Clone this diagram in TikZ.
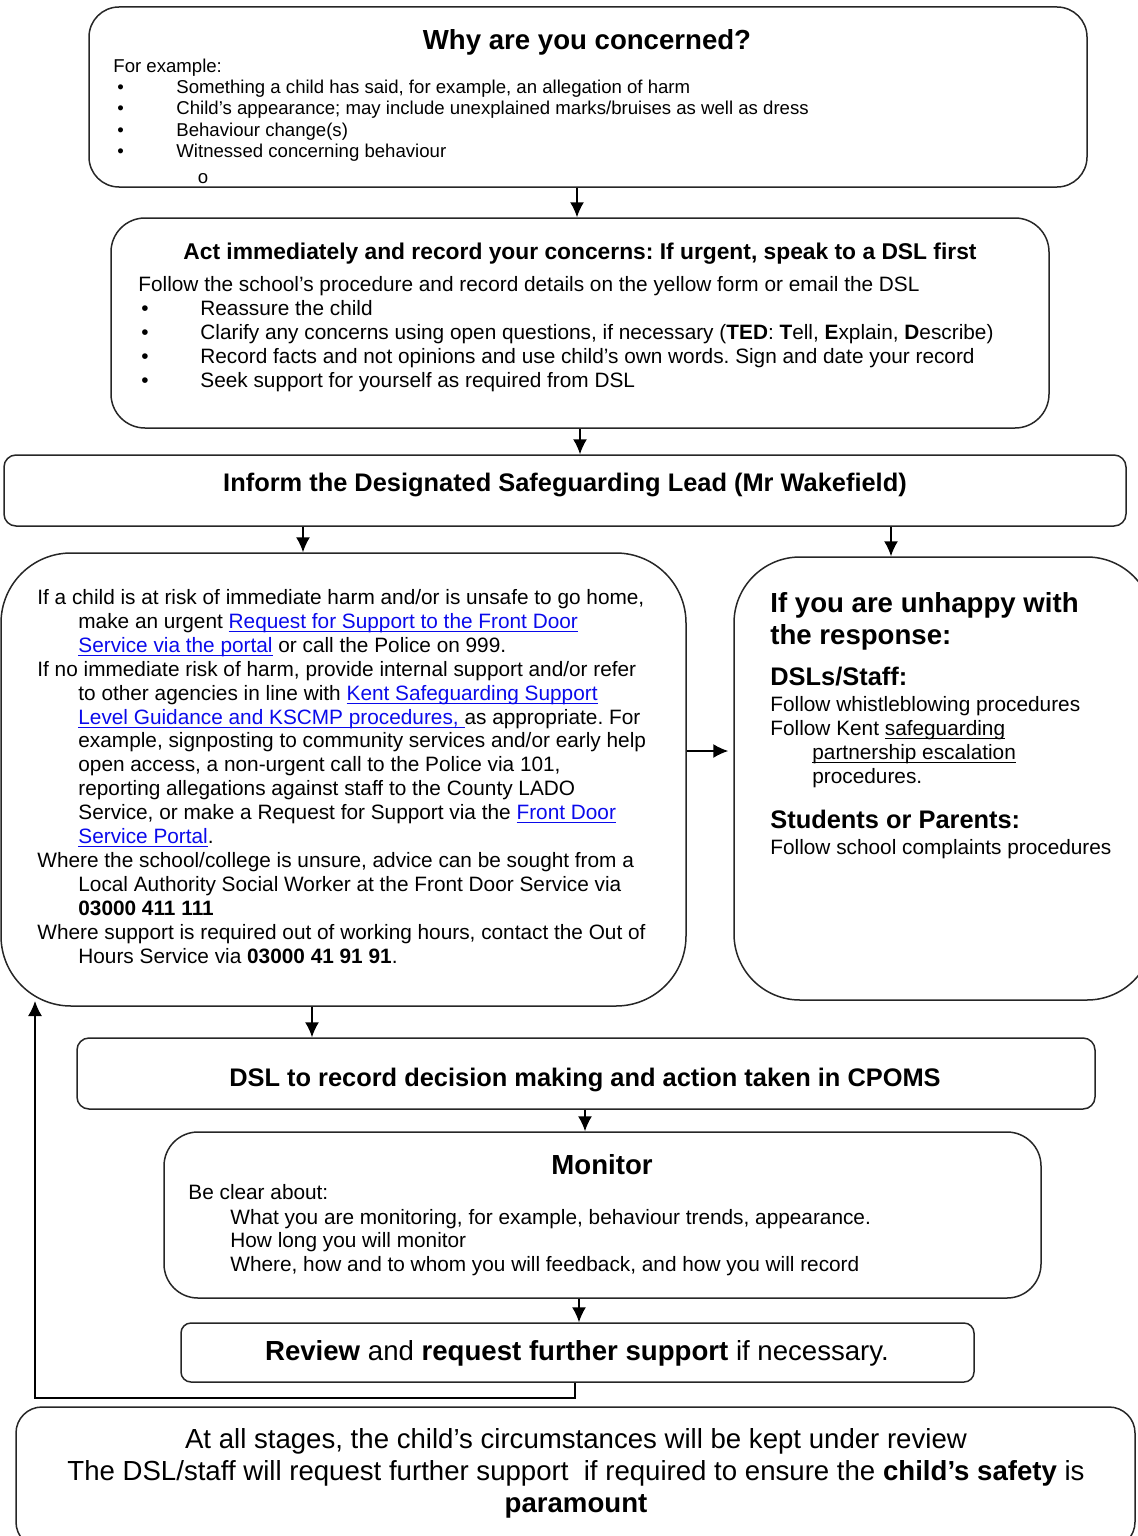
\documentclass[tikz,border=0pt]{standalone}
\usepackage{fontspec}
\setmainfont{Liberation Sans}
\usetikzlibrary{arrows.meta,fit}

\definecolor{linkblue}{RGB}{10,10,235}
\newcommand{\undl}[1]{\setbox0=\hbox{#1}\rlap{\vrule height -1.4pt depth 1.85pt width \wd0}\box0}
\newcommand{\lnk}[1]{\textcolor{linkblue}{\undl{#1}}}
\newcommand{\szbig}{\fontsize{13.8}{16}\selectfont}
\newcommand{\szmid}{\fontsize{12.7}{15}\selectfont}
\newcommand{\szact}{\fontsize{11.4}{13.5}\selectfont}
\newcommand{\szbody}{\fontsize{10.4}{12}\selectfont}
\newcommand{\szsmall}{\fontsize{9.3}{10.5}\selectfont}
\frenchspacing

\tikzset{
  box/.style={draw=black!85, line width=0.75pt, rounded corners=#1, inner sep=0pt},
  box/.default=6pt,
  arr/.style={-{Latex[length=7.5pt,width=7pt]}, line width=0.75pt, draw=black},
  txt/.style={anchor=base west, inner sep=0pt, text=black},
  ctr/.style={anchor=base, inner sep=0pt, text=black}
}

\begin{document}
\begin{tikzpicture}[x=0.5pt,y=-0.5pt]
\useasboundingbox (0,0) rectangle (1137,1536);

% boxes:
\node[box=15pt, fit={(89,7) (1087,187)}] (why) {};
\node[box=17pt, fit={(111,218) (1049,428)}] (act) {};
\node[box=6pt, fit={(4,455) (1126,526)}] (inform) {};
\node[box=35pt, fit={(1,553) (686,1006)}] (harm) {};
\node[box=33pt, fit={(734,557) (1153,1000)}] (unhappy) {};
\node[box=6pt, fit={(77,1038) (1095,1109)}] (cpoms) {};
\node[box=17pt, fit={(164,1132) (1041,1298)}] (monitor) {};
\node[box=5pt, fit={(181,1323) (974,1382)}] (review) {};
\node[box=13pt, fit={(16,1407) (1135,1548)}] (stages) {};

% connectors:
\coordinate (c1) at (577,0);
\coordinate (c2) at (580,0);
\coordinate (c3) at (303,0);
\coordinate (c4) at (891,0);
\coordinate (c5) at (0,751);
\coordinate (c6) at (312,0);
\coordinate (c7) at (585,0);
\coordinate (c8) at (579,0);
\coordinate (c9) at (575,0);
\coordinate (back) at (35,1001);
\draw[arr] (why.south -| c1) -- (act.north -| c1);
\draw[arr] (act.south -| c2) -- (inform.north -| c2);
\draw[arr] (inform.south -| c3) -- (harm.north -| c3);
\draw[arr] (inform.south -| c4) -- (unhappy.north -| c4);
\draw[arr, shorten >=2.5pt] (harm.east |- c5) -- (unhappy.west |- c5);
\draw[arr] (harm.south -| c6) -- (cpoms.north -| c6);
\draw[arr] (cpoms.south -| c7) -- (monitor.north -| c7);
\draw[arr] (monitor.south -| c8) -- (review.north -| c8);
\draw[arr] (review.south -| c9) -- ++(0,15) -| (back);

% why are you concerned:
\path (587,50) node[ctr] (why-t) {\szbig\bfseries Why are you concerned?};
\path (113,73) node[txt] (why-0) {\szsmall For example:};
\path (117,94) node[txt] (why-b1) {\szsmall •};
\path (176,94) node[txt] (why-1) {\szsmall Something a child has said, for example, an allegation of harm};
\path (117,115) node[txt] (why-b2) {\szsmall •};
\path (176,115) node[txt] (why-2) {\szsmall Child’s appearance; may include unexplained marks/bruises as well as dress};
\path (117,136) node[txt] (why-b3) {\szsmall •};
\path (176,136) node[txt] (why-3) {\szsmall Behaviour change(s)};
\path (117,157) node[txt] (why-b4) {\szsmall •};
\path (176,157) node[txt] (why-4) {\szsmall Witnessed concerning behaviour};
\path (203,183.5) node[ctr] (why-o) {\szsmall o};

% act immediately:
\path (580,259) node[ctr] (act-t) {\szact\bfseries Act immediately and record your concerns: If urgent, speak to a DSL first};
\path (138,291.5) node[txt] (act-0) {\szbody Follow the school’s procedure and record details on the yellow form or email the DSL};
\path (141,315.5) node[txt] (act-b1) {\szbody •};
\path (200,315.5) node[txt] (act-1) {\szbody Reassure the child};
\path (141,339.5) node[txt] (act-b2) {\szbody •};
\path (200,339.5) node[txt] (act-2) {\szbody Clarify any concerns using open questions, if necessary (\textbf{TED}: \textbf{T}ell, \textbf{E}xplain, \textbf{D}escribe)};
\path (141,363.5) node[txt] (act-b3) {\szbody •};
\path (200,363.5) node[txt] (act-3) {\szbody Record facts and not opinions and use child’s own words. Sign and date your record};
\path (141,387.5) node[txt] (act-b4) {\szbody •};
\path (200,387.5) node[txt] (act-4) {\szbody Seek support for yourself as required from DSL};

% inform:
\path (565,491) node[ctr] (inform-t) {\szmid\bfseries Inform the Designated Safeguarding Lead (Mr Wakefield)};

% immediate harm:
\path (37,604.5) node[txt] (harm-1) {\szbody If a child is at risk of immediate harm and/or is unsafe to go home,};
\path (78,628.4) node[txt] (harm-2) {\szbody make an urgent \lnk{Request for Support to the Front Door}};
\path (78,652.3) node[txt] (harm-3) {\szbody \lnk{Service via the portal} or call the Police on 999.};
\path (37,676.2) node[txt] (harm-4) {\szbody If no immediate risk of harm, provide internal support and/or refer};
\path (78,700.1) node[txt] (harm-5) {\szbody to other agencies in line with \lnk{Kent Safeguarding Support}};
\path (78,724.0) node[txt] (harm-6) {\szbody \lnk{Level Guidance and KSCMP procedures,\ }as appropriate. For};
\path (78,747.9) node[txt] (harm-7) {\szbody example, signposting to community services and/or early help};
\path (78,771.8) node[txt] (harm-8) {\szbody open access, a non-urgent call to the Police via 101,};
\path (78,795.7) node[txt] (harm-9) {\szbody reporting allegations against staff to the County LADO};
\path (78,819.6) node[txt] (harm-10) {\szbody Service, or make a Request for Support via the \lnk{Front Door}};
\path (78,843.5) node[txt] (harm-11) {\szbody \lnk{Service Portal}.};
\path (37,867.4) node[txt] (harm-12) {\szbody Where the school/college is unsure, advice can be sought from a};
\path (78,891.3) node[txt] (harm-13) {\szbody Local Authority Social Worker at the Front Door Service via};
\path (78,915.2) node[txt] (harm-14) {\szbody \textbf{03000 411 111}};
\path (37,939.1) node[txt] (harm-15) {\szbody Where support is required out of working hours, contact the Out of};
\path (78,963.0) node[txt] (harm-16) {\szbody Hours Service via \textbf{03000 41 91 91}.};

% unhappy with the response:
\path (770,612) node[txt] (unh-t1) {\szbig\bfseries If you are unhappy with};
\path (770,644) node[txt] (unh-t2) {\szbig\bfseries the response:};
\path (770,685) node[txt] (unh-s1) {\szmid\bfseries DSLs/Staff:};
\path (770,711.5) node[txt] (unh-1) {\szbody Follow whistleblowing procedures};
\path (770,735.5) node[txt] (unh-2) {\szbody Follow Kent \undl{safeguarding}};
\path (812,759.5) node[txt] (unh-3) {\szbody \undl{partnership escalation}};
\path (812,783.5) node[txt] (unh-4) {\szbody procedures.};
\path (770,828) node[txt] (unh-s2) {\szmid\bfseries Students or Parents:};
\path (770,854.5) node[txt] (unh-5) {\szbody Follow school complaints procedures};

% cpoms:
\path (585,1086) node[ctr] (cpoms-t) {\szmid\bfseries DSL to record decision making and action taken in CPOMS};

% monitor:
\path (602,1174) node[ctr] (mon-t) {\szbig\bfseries Monitor};
\path (188,1199.5) node[txt] (mon-0) {\szbody Be clear about:};
\path (230,1224.5) node[txt] (mon-1) {\szbody What you are monitoring, for example, behaviour trends, appearance.};
\path (230,1247.5) node[txt] (mon-2) {\szbody How long you will monitor};
\path (230,1271.5) node[txt] (mon-3) {\szbody Where, how and to whom you will feedback, and how you will record};

% review:
\path (577,1360) node[ctr] (rev-t) {\szbig\textbf{Review} and \textbf{request further support} if necessary.};

% at all stages:
\path (576,1448) node[ctr] (stg-1) {\szbig At all stages, the child’s circumstances will be kept under review};
\path (576,1480) node[ctr] (stg-2) {\szbig The DSL/staff will request further support\ \ if required to ensure the \textbf{child’s safety} is};
\path (576,1512) node[ctr] (stg-3) {\szbig\bfseries paramount};

\end{tikzpicture}
\end{document}
